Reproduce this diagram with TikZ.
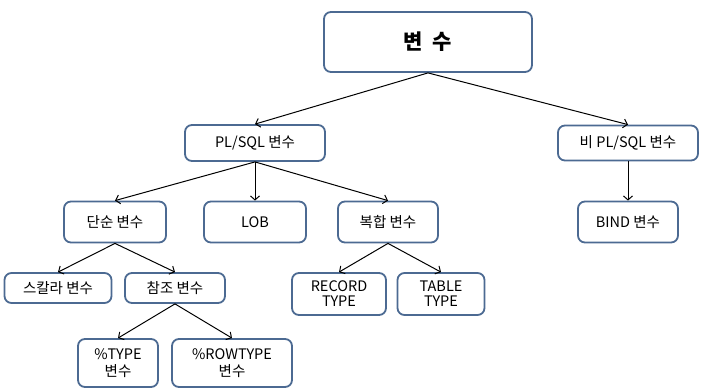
\documentclass[tikz,border=0pt]{standalone}
\usepackage{fontspec}
\setmainfont{Noto Sans CJK KR}
\usetikzlibrary{arrows.meta}

\definecolor{boxblue}{HTML}{4C6A92}

\begin{document}
\begin{tikzpicture}[x=1pt, y=-1pt, thick]
  \tikzset{
    box/.style={draw=boxblue, line width=1.8pt, rounded corners=7pt, fill=white,
      align=center, inner sep=0pt, font=\fontsize{14.5}{15}\selectfont},
    link/.style={-{Straight Barb[length=4pt, width=9pt]}, line width=1pt}
  }
  \useasboundingbox (0,0) rectangle (704,391);
  % top
  \node[box, minimum width=208pt, minimum height=60pt, font=\fontsize{21}{24}\selectfont\bfseries] (var) at (428,42) {변\ \ 수};
  % second level
  \node[box, minimum width=140pt, minimum height=36pt] (plsql) at (255,143) {PL/SQL 변수};
  \node[box, minimum width=140pt, minimum height=35pt] (nonpl) at (628,143) {비 PL/SQL 변수};
  % third level
  \node[box, minimum width=102pt, minimum height=41pt] (simple) at (115,222) {단순 변수};
  \node[box, minimum width=102pt, minimum height=41pt] (lob) at (255,222) {LOB};
  \node[box, minimum width=100pt, minimum height=41pt] (comp) at (388,222) {복합 변수};
  \node[box, minimum width=100pt, minimum height=41pt] (bind) at (628,222) {BIND 변수};
  % fourth level
  \node[box, minimum width=107pt, minimum height=30pt] (scalar) at (58,288) {스칼라 변수};
  \node[box, minimum width=100pt, minimum height=30pt] (ref) at (175,288) {참조 변수};
  \node[box, minimum width=94pt, minimum height=42pt] (record) at (339,294) {RECORD\\TYPE};
  \node[box, minimum width=87pt, minimum height=42pt] (table) at (441,294) {TABLE\\TYPE};
  % fifth level
  \node[box, minimum width=80pt, minimum height=48pt] (ptype) at (118,363) {\%TYPE\\[2pt]변수};
  \node[box, minimum width=120pt, minimum height=48pt] (rowtype) at (232,363) {\%ROWTYPE\\[2pt]변수};
  % connectors
  \foreach \a/\b in {var/plsql, var/nonpl, plsql/simple, plsql/lob, plsql/comp,
                     nonpl/bind, simple/scalar, simple/ref, comp/record, comp/table,
                     ref/ptype, ref/rowtype}
    \draw[link] (\a.south) -- (\b.north);
\end{tikzpicture}
\end{document}
